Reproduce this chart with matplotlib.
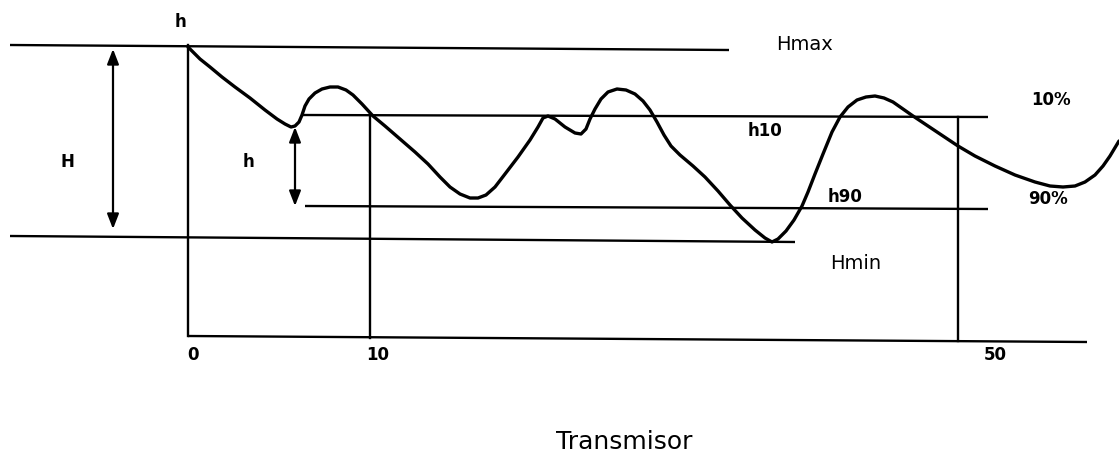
import numpy as np
import matplotlib.pyplot as plt

# schematic drawn in image units (x right, y down)
profile_x = [188, 193, 200, 210, 222, 235, 250, 265, 277, 285, 291, 295, 299, 302,
             305, 309, 315, 322, 330, 338, 346, 353, 362, 373, 385, 400, 415, 428,
             440, 450, 460, 470, 478, 486, 495, 505, 518, 530, 538, 543, 548, 555,
             565, 575, 581, 586, 590, 595, 601, 608, 617, 626, 635, 643, 650, 657,
             664, 671, 680, 693, 705, 718, 730, 742, 755, 765, 772, 778, 786, 794,
             802, 808, 815, 823, 832, 840, 848, 857, 866, 875, 884, 893, 903, 913,
             925, 940, 958, 975, 995, 1015, 1035, 1050, 1063, 1075, 1085, 1095,
             1103, 1110, 1119]
profile_y = [48, 53, 60, 68, 78, 88, 99, 111, 120, 125, 128, 127, 123, 116,
             107, 100, 94, 90, 88, 88, 91, 96, 105, 117, 127, 140, 153, 165,
             178, 188, 195, 199, 199, 196, 188, 175, 158, 141, 128, 119, 117, 120,
             128, 134, 135, 130, 120, 110, 100, 93, 90, 91, 95, 102, 111, 123,
             136, 147, 156, 167, 178, 192, 206, 219, 231, 239, 243, 240, 232, 221,
             207, 193, 175, 155, 133, 118, 108, 101, 98, 97, 99, 103, 110, 117,
             125, 135, 147, 157, 167, 176, 183, 187, 188, 187, 183, 176,
             167, 157, 142]

# reference levels: (x0, x1, y0, y1)
levels = {
    'Hmax': (10, 729, 46, 51),
    'Hmin': (10, 795, 237, 243),
    'h10': (303, 988, 116, 118),
    'h90': (305, 988, 207, 210),
    'base': (188, 1087, 337, 343),
}
# vertical markers: x, y top, y bottom
verticals = [(188, 46, 337), (370, 115, 339), (958, 118, 342)]
dist_labels = ['0', '10', '50']
dist_label_x = [193, 378, 995]

arrows = [(113, 50, 230), (295, 128, 207)]

fig = plt.figure(figsize=(11.19, 4.56), dpi=100)
ax = fig.add_axes([0, 0, 1, 1])
ax.set_xlim(0, 1119)
ax.set_ylim(456, 0)
ax.axis('off')

for name, (x0, x1, y0, y1) in levels.items():
    ax.plot([x0, x1], [y0, y1], color='black', lw=1.7, solid_capstyle='butt')

for x, ya, yb in verticals:
    ax.plot([x, x], [ya, yb], color='black', lw=1.7)

ax.plot(profile_x, profile_y, color='black', lw=2.4,
        solid_joinstyle='round', solid_capstyle='round')

for x, ya, yb in arrows:
    ax.annotate('', xy=(x, yb), xytext=(x, ya),
                arrowprops=dict(arrowstyle='<|-|>,head_length=0.9,head_width=0.35',
                                color='black', lw=1.6, shrinkA=0, shrinkB=0))

bold = dict(fontsize=12, fontweight='bold', color='black', ha='center', va='center')
ax.text(181, 22, 'h', **bold)
ax.text(67, 162, 'H', **bold)
ax.text(248, 162, 'h', **bold)
ax.text(765, 131, 'h10', **bold)
ax.text(845, 197, 'h90', **bold)
ax.text(1051, 100, '10%', **bold)
ax.text(1048, 199, '90%', **bold)
for lab, x in zip(dist_labels, dist_label_x):
    ax.text(x, 355, lab, **bold)

reg = dict(fontsize=14, color='black', ha='center', va='center')
ax.text(804, 45, 'Hmax', **reg)
ax.text(856, 264, 'Hmin', **reg)
ax.text(624, 442, 'Transmisor', fontsize=18, color='black', ha='center', va='center')

fig.savefig('out.png', dpi=100, facecolor='white')
